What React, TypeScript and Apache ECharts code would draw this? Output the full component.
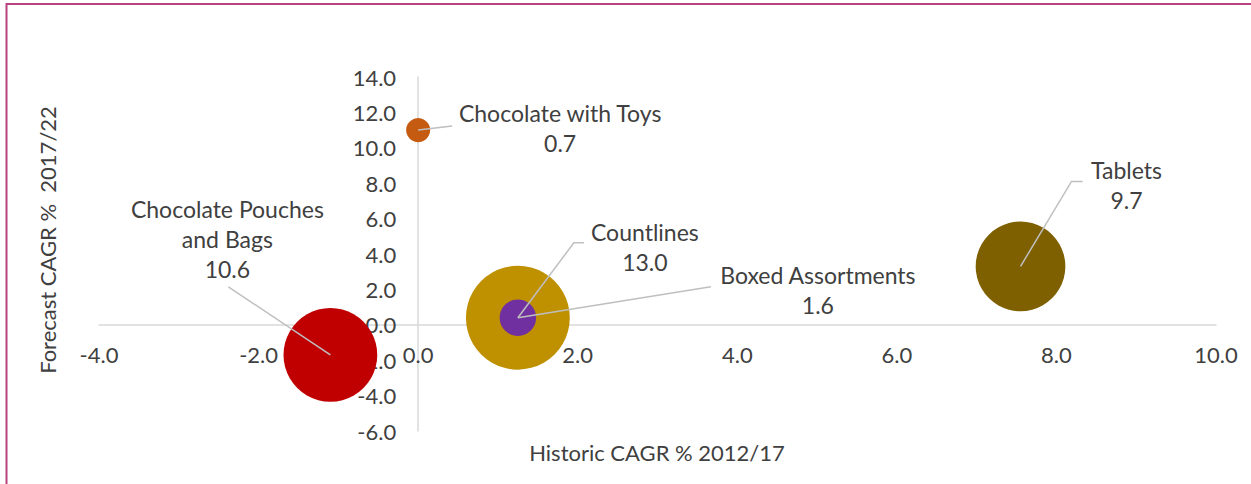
import React, { useEffect, useRef } from "react";
import * as echarts from "echarts";

// ---- Data ----
const categories = [
  "Chocolate with Toys",
  "Chocolate Pouches and Bags",
  "Countlines",
  "Boxed Assortments",
  "Tablets",
];
const historicCagr = [0.0, -1.1, 1.25, 1.25, 7.55];
const forecastCagr = [11.0, -1.7, 0.4, 0.4, 3.3];
const marketSize = [0.7, 10.6, 13.0, 1.6, 9.7];

const xRange = [-4, 10];
const yRange = [-6, 14];
const tickStep = 2;

const xAxisTitle = "Historic CAGR % 2012/17";
const yAxisTitle = "Forecast CAGR %  2017/22";

// ---- Styles ----
const bubbleColors = ["#C55A11", "#C00000", "#BF9000", "#7030A0", "#7F6000"];
const labelWrap: Record<string, string> = {
  "Chocolate Pouches and Bags": "Chocolate Pouches\nand Bags",
};
// label placement relative to bubble centre (px)
const labelPlacement = [
  { text: [142, -2.5], line: [[0, 0], [34, -4]] },
  { text: [-103, -116], line: [[0, 0], [-102, -68]] },
  { text: [127, -71], line: [[0, 0], [56, -75], [66, -75]] },
  { text: [300, -27.5], line: [[0, 0], [193, -31]] },
  { text: [106, -81.5], line: [[0, 0], [51, -85], [62, -85]] },
];
const FONT = "Lato";
const TEXT_COLOR = "#404040";
const AXIS_COLOR = "#D9D9D9";
const BORDER_COLOR = "#B8437F";

const W = 1251;
const H = 484;
const GRID = { left: 99, right: 35, top: 77, bottom: 53 };

export default function App() {
  const ref = useRef<HTMLDivElement>(null);

  useEffect(() => {
    if (!ref.current) return;
    const chart = echarts.init(ref.current, undefined, { renderer: "svg" });
    const data = categories.map((c, i) => ({
      name: c,
      value: [historicCagr[i], forecastCagr[i], marketSize[i]],
      itemStyle: { color: bubbleColors[i], opacity: 1 },
    }));

    const gridW = W - GRID.left - GRID.right;
    const gridH = H - GRID.top - GRID.bottom;
    // move the axes so that they cross at zero
    const xAxisOffset = -((0 - yRange[0]) / (yRange[1] - yRange[0])) * gridH;
    const yAxisOffset = -((0 - xRange[0]) / (xRange[1] - xRange[0])) * gridW;

    chart.setOption({
      animation: false,
      backgroundColor: "#ffffff",
      grid: { ...GRID, containLabel: false },
      xAxis: {
        type: "value",
        min: xRange[0],
        max: xRange[1],
        interval: tickStep,
        position: "bottom",
        offset: xAxisOffset,
        axisLine: { show: true, onZero: false, lineStyle: { color: AXIS_COLOR, width: 1.5 } },
        axisTick: { show: false },
        splitLine: { show: false },
        axisLabel: {
          color: TEXT_COLOR,
          fontFamily: FONT,
          fontSize: 22,
          margin: 19,
          formatter: (v: number) => v.toFixed(1),
        },
      },
      yAxis: {
        type: "value",
        min: yRange[0],
        max: yRange[1],
        interval: tickStep,
        position: "left",
        offset: yAxisOffset,
        axisLine: { show: true, onZero: false, lineStyle: { color: AXIS_COLOR, width: 1.5 } },
        axisTick: { show: false },
        splitLine: { show: false },
        axisLabel: {
          color: TEXT_COLOR,
          fontFamily: FONT,
          fontSize: 22,
          margin: 22,
          formatter: (v: number) => v.toFixed(1),
        },
      },
      series: [
        {
          type: "scatter",
          data,
          symbolSize: (val: number[]) => 28.8 * Math.sqrt(val[2]),
          z: 2,
        },
        {
          type: "custom",
          z: 3,
          silent: true,
          data: categories.map((c, i) => [historicCagr[i], forecastCagr[i], marketSize[i], i]),
          renderItem: (params: any, api: any) => {
            const idx = params.dataIndex;
            const c = api.coord([api.value(0), api.value(1)]);
            const p = labelPlacement[idx];
            const name = categories[idx];
            const txt = (labelWrap[name] || name) + "\n" + marketSize[idx].toFixed(1);
            return {
              type: "group",
              children: [
                {
                  type: "polyline",
                  shape: { points: p.line.map((pt) => [c[0] + pt[0], c[1] + pt[1]]) },
                  style: { stroke: "#BFBFBF", lineWidth: 1.5, fill: "none" },
                },
                {
                  type: "text",
                  x: c[0] + p.text[0],
                  y: c[1] + p.text[1],
                  style: {
                    text: txt,
                    align: "center",
                    verticalAlign: "middle",
                    fontFamily: FONT,
                    fontSize: 23,
                    lineHeight: 30,
                    fill: TEXT_COLOR,
                  },
                },
              ],
            };
          },
        },
      ],
      graphic: [
        {
          type: "line",
          shape: { x1: 6, y1: 4, x2: 1251, y2: 4 },
          style: { stroke: BORDER_COLOR, lineWidth: 2 },
        },
        {
          type: "line",
          shape: { x1: 6.5, y1: 3, x2: 6.5, y2: 484 },
          style: { stroke: BORDER_COLOR, lineWidth: 2 },
        },
        {
          type: "text",
          x: 657,
          y: 452,
          style: {
            text: xAxisTitle,
            align: "center",
            verticalAlign: "middle",
            fontFamily: FONT,
            fontSize: 22,
            fill: TEXT_COLOR,
          },
        },
        {
          type: "text",
          x: 47,
          y: 240,
          rotation: Math.PI / 2,
          style: {
            text: yAxisTitle,
            align: "center",
            verticalAlign: "middle",
            fontFamily: FONT,
            fontSize: 22,
            fill: TEXT_COLOR,
          },
        },
      ],
    });
    return () => chart.dispose();
  }, []);

  return (
    <div
      ref={ref}
      style={{ position: "absolute", left: 0, top: 0, width: W, height: H }}
    />
  );
}
